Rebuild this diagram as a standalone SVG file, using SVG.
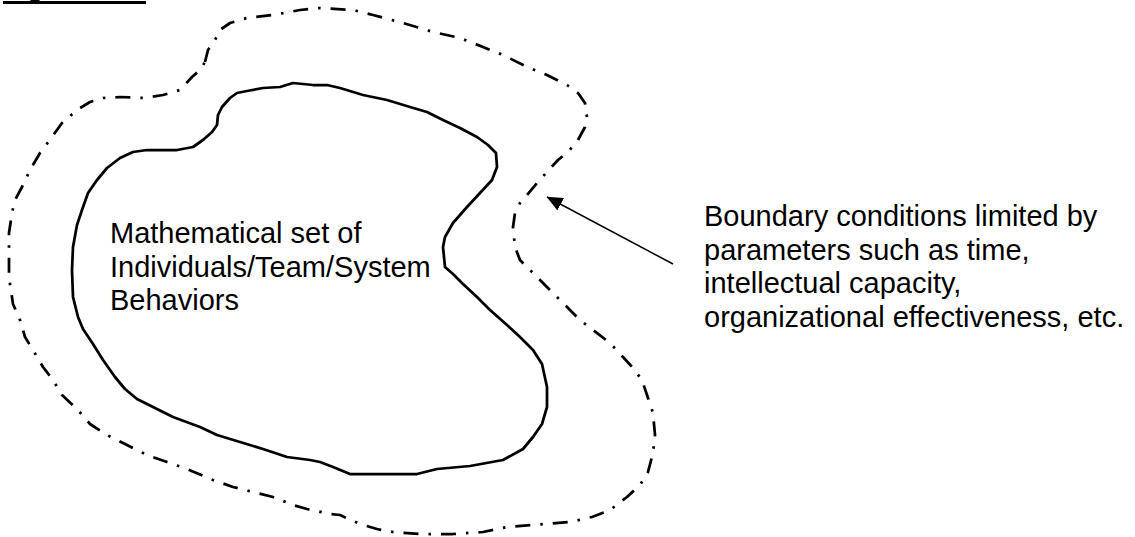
<svg xmlns="http://www.w3.org/2000/svg" width="1135" height="537" viewBox="0 0 1135 537">
<style>
.lbl{font-family:"Liberation Sans",Arial,sans-serif;font-size:29px;fill:#000}
.inner{fill:none;stroke:#000;stroke-width:2.75;stroke-linejoin:round}
.outer{fill:none;stroke:#000;stroke-width:2.75;stroke-dasharray:15 10 2.5 10;stroke-linejoin:round}
.conn{fill:none;stroke:#000;stroke-width:1.5}
</style>
<defs>
<marker id="ah" viewBox="0 0 10 10" refX="9.5" refY="5" markerWidth="10" markerHeight="9" markerUnits="userSpaceOnUse" orient="auto">
<path d="M0,0 L10,5 L0,10 Z" fill="#000"/>
</marker>
<marker id="ahbig" viewBox="0 0 16 14" refX="15.5" refY="7" markerWidth="16" markerHeight="14" markerUnits="userSpaceOnUse" orient="auto">
<path d="M0,0 L16,7 L0,14 Z" fill="#000"/>
</marker>
</defs>
<rect width="1135" height="537" fill="#fff"/>
<g id="title">
<text class="lbl" x="3" y="-4">Figure</text>
<line x1="3" y1="2.5" x2="146" y2="2.5" stroke="#000" stroke-width="3"/>
</g>
<g id="boundary">
<path class="outer" d="M205,62 L208,50 L215,40 L220,30 L230,23 L247,18 L273,15 L300,10 L320,8 L353,10 L373,15 L403,23 L433,32 L460,38 L483,47 L503,55 L527,67 L547,75 L567,85 L578,93 L585,103 L587,117 L585,127 L578,140 L568,152 L558,160 L547,172 L537,183 L527,195 L520,203 L515,213 L513,227 L515,247 L520,260 L530,270 L540,280 L553,293 L567,307 L580,320 L593,330 L610,343 L623,357 L633,368 L642,380 L648,398 L653,413 L655,435 L653,453 L648,472 L640,485 L627,497 L610,510 L592,517 L570,522 L533,525 L507,527 L483,532 L453,534 L420,534 L393,532 L377,529 L360,524 L340,515 L330,514 L307,509 L293,505 L273,497 L253,492 L233,487 L213,480 L187,469 L167,462 L147,455 L127,445 L107,435 L90,424 L77,409 L62,395 L53,380 L43,367 L33,350 L25,337 L20,320 L13,304 L9,277 L9,250 L9,233 L12,213 L15,200 L22,187 L30,170 L40,153 L52,137 L62,123 L77,110 L90,102 L103,98 L120,97 L143,98 L163,95 L180,90 L192,77 L200,70 Z"/>
</g>
<g id="behaviors">
<path class="inner" d="M237,93 L247,91 L263,88 L280,87 L293,83 L313,85 L327,85 L340,88 L363,95 L387,100 L410,107 L427,112 L443,120 L460,128 L477,137 L488,145 L496,153 L497,167 L492,180 L480,193 L467,207 L453,223 L445,237 L443,247 L445,267 L453,274 L463,284 L477,297 L490,310 L507,325 L520,337 L533,350 L542,364 L547,387 L547,407 L542,424 L533,437 L523,449 L503,460 L470,466 L437,469 L417,474 L350,474 L333,467 L320,462 L310,460 L287,457 L263,449 L240,442 L217,435 L200,427 L173,417 L153,407 L137,399 L125,389 L115,377 L103,360 L93,344 L83,329 L78,317 L73,297 L72,270 L73,247 L77,225 L82,210 L88,193 L97,180 L107,168 L120,158 L133,152 L147,150 L177,150 L193,147 L203,140 L212,132 L217,125 L218,115 L222,107 L230,98 Z"/>
<text class="lbl" x="110" y="243">Mathematical set of</text>
<text class="lbl" x="110" y="276.5">Individuals/Team/System</text>
<text class="lbl" x="110" y="310">Behaviors</text>
</g>
<g id="note">
<text class="lbl" x="704" y="226">Boundary conditions limited by</text>
<text class="lbl" x="704" y="259.5">parameters such as time,</text>
<text class="lbl" x="704" y="293">intellectual capacity,</text>
<text class="lbl" x="704" y="326.5">organizational effectiveness, etc.</text>
</g>
<g id="connectors">
<line class="conn" x1="673" y1="264" x2="547" y2="197" marker-end="url(#ahbig)"/>
</g>
</svg>
